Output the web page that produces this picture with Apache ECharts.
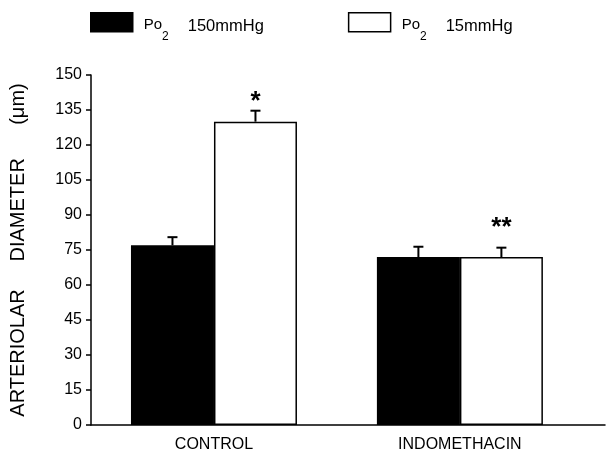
<!DOCTYPE html>
<html>
<head>
<meta charset="utf-8">
<script src="https://cdn.jsdelivr.net/npm/echarts@6/dist/echarts.min.js"></script>
<style>
  html, body { margin: 0; padding: 0; background: #fff; }
  #chart { width: 607px; height: 453px; }
</style>
</head>
<body>
<div id="chart"></div>
<script>
var categories = ['CONTROL', 'INDOMETHACIN'];
var yTicks = [0, 15, 30, 45, 60, 75, 90, 105, 120, 135, 150];

// Po2 150 mmHg (black bars)
var highMean = [77, 72];
var highErr = [3.5, 4.4];
// Po2 15 mmHg (white bars)
var lowMean = [130, 72];
var lowErr = [4.7, 4];

// significance marks above the white bars, and the height they sit at
var sigMarks = ['*', '**'];
var sigLevel = [141.5, 87.5];

var seriesNames = ['Po2 150mmHg', 'Po2 15mmHg'];
var legendText = {
  'Po2 150mmHg': '{p|Po}{s|2}{v|150mmHg}',
  'Po2 15mmHg': '{p|Po}{s|2}{v|15mmHg}'
};

var BAR_W = 83;
var FONT = 'Liberation Sans, Arial, sans-serif';

function pos(i) {
  return 2 * i + 1;
}

function initChart() {
  var highData = [], lowData = [], errData = [], sigData = [];
  for (var i = 0; i < categories.length; i++) {
    highData.push([pos(i), highMean[i]]);
    lowData.push([pos(i), lowMean[i]]);
    errData.push([pos(i), highMean[i], highErr[i], -1]);
    errData.push([pos(i), lowMean[i], lowErr[i], 1]);
    sigData.push([pos(i), sigLevel[i], sigMarks[i]]);
  }

  var option = {
    animation: false,
    backgroundColor: '#fff',
    textStyle: { fontFamily: FONT, color: '#000' },
    legend: {
      left: 90,
      top: 12,
      padding: 0,
      itemWidth: 42,
      itemHeight: 19,
      itemGap: 84,
      icon: 'rect',
      data: [
        { name: seriesNames[0], itemStyle: { color: '#000', borderColor: '#000', borderWidth: 1.5 } },
        { name: seriesNames[1], itemStyle: { color: '#fff', borderColor: '#000', borderWidth: 1.5 } }
      ],
      formatter: function (name) { return legendText[name]; },
      textStyle: {
        rich: {
          p: { fontSize: 15, fontFamily: FONT, color: '#000', padding: [3.5, 0, 0, 6], lineHeight: 16, verticalAlign: 'top' },
          s: { fontSize: 12, fontFamily: FONT, color: '#000', padding: [16.5, 0, 0, 0], lineHeight: 12, verticalAlign: 'top' },
          v: { fontSize: 16.5, fontFamily: FONT, color: '#000', padding: [3.5, 0, 0, 19], lineHeight: 16, verticalAlign: 'top' }
        }
      }
    },
    grid: { left: 91, right: 2, top: 75, bottom: 27 },
    xAxis: {
      type: 'value',
      min: 0,
      max: 4.18,
      interval: 1,
      axisLine: { lineStyle: { color: '#000', width: 1.5 } },
      axisTick: { show: false },
      splitLine: { show: false },
      axisLabel: {
        margin: 12,
        fontSize: 16,
        fontFamily: FONT,
        color: '#000',
        showMaxLabel: false,
        formatter: function (v) {
          var i = (Math.round(v) - 1) / 2;
          return categories[i] || '';
        }
      }
    },
    yAxis: {
      type: 'value',
      min: yTicks[0],
      max: yTicks[yTicks.length - 1],
      interval: 15,
      name: 'ARTERIOLAR     DIAMETER      (μm)',
      nameLocation: 'middle',
      nameGap: 63,
      nameTextStyle: { fontSize: 20, fontFamily: FONT, color: '#000' },
      axisLine: { show: true, lineStyle: { color: '#000', width: 1.5 } },
      axisTick: { show: true, length: 5, lineStyle: { color: '#000', width: 1.5 } },
      splitLine: { show: false },
      axisLabel: { fontSize: 16, fontFamily: FONT, color: '#000', margin: 9 }
    },
    series: [
      {
        name: seriesNames[0],
        type: 'bar',
        barWidth: BAR_W,
        barGap: '0%',
        data: highData,
        itemStyle: { color: '#000', borderColor: '#000', borderWidth: 1.5 }
      },
      {
        name: seriesNames[1],
        type: 'bar',
        barWidth: BAR_W,
        barGap: '0%',
        data: lowData,
        itemStyle: { color: '#fff', borderColor: '#000', borderWidth: 1.5 }
      },
      {
        type: 'custom',
        data: errData,
        z: 5,
        renderItem: function (params, api) {
          var side = api.value(3);
          var base = api.coord([api.value(0), api.value(1)]);
          var top = api.coord([api.value(0), api.value(1) + api.value(2)]);
          var x = base[0] + side * BAR_W / 2;
          return {
            type: 'group',
            children: [
              { type: 'line', shape: { x1: x, y1: base[1], x2: x, y2: top[1] }, style: { stroke: '#000', lineWidth: 2 } },
              { type: 'line', shape: { x1: x - 5, y1: top[1], x2: x + 5, y2: top[1] }, style: { stroke: '#000', lineWidth: 2 } }
            ]
          };
        }
      },
      {
        type: 'custom',
        data: sigData,
        z: 5,
        renderItem: function (params, api) {
          var p = api.coord([api.value(0), api.value(1)]);
          return {
            type: 'text',
            style: {
              x: p[0] + BAR_W / 2,
              y: p[1] + 7,
              text: sigMarks[params.dataIndex],
              fontSize: 26,
              fontWeight: 'bold',
              fontFamily: FONT,
              fill: '#000',
              align: 'center',
              verticalAlign: 'middle'
            }
          };
        }
      }
    ]
  };
  var myChart = echarts.init(document.getElementById('chart'));
  myChart.setOption(option);
}

initChart();
</script>
</body>
</html>
